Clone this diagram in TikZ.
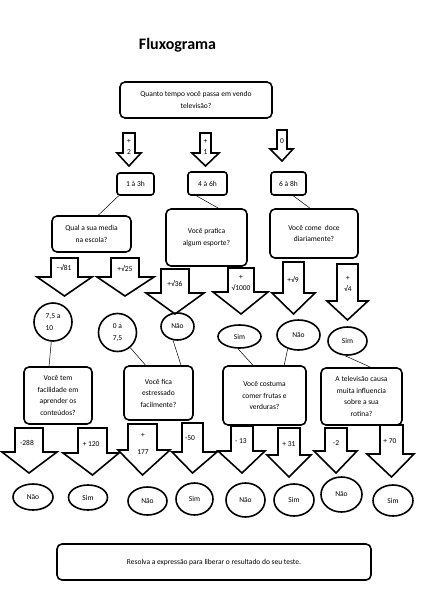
\documentclass[tikz,border=0pt]{standalone}
\usepackage{fontspec}
\setmainfont{Carlito}
\usepackage{tikz}
\usetikzlibrary{shapes.geometric}

% seta em bloco para baixo: haste esq, haste dir, topo, inicio da ponta, ponta esq, ponta dir, bico
\newcommand{\setaBloco}[7]{%
  \draw[bloco] (#1,#3) -- (#2,#3) -- (#2,#4) -- (#6,#4) -- ({(#1+#2)/2},#7) -- (#5,#4) -- (#1,#4) -- cycle;}

\begin{document}
\begin{tikzpicture}[x=1pt, y=-1pt,
    caixa/.style={draw, rounded corners=5pt, line width=1.6pt, align=center, inner sep=1pt, font=\fontsize{7.5}{11.5}\selectfont},
    bola/.style={draw, circle, line width=1.6pt, inner sep=0pt, align=left, font=\fontsize{7.5}{11.5}\selectfont},
    oval/.style={draw, ellipse, line width=1.6pt, inner sep=0pt, font=\fontsize{7.5}{11.5}\selectfont},
    rotulo/.style={align=center, inner sep=0pt, font=\fontsize{7.5}{11.5}\selectfont},
    bloco/.style={draw, line width=1.6pt, line join=miter},
    liga/.style={draw, line width=0.5pt}]

    \useasboundingbox (0,0) rectangle (433,599);

    \node[font=\fontsize{16}{18}\bfseries\selectfont] (titulo) at (177.5,45) {Fluxograma};

    \node[caixa, minimum width=152pt, minimum height=36pt] (tempo) at (196,100) {Quanto tempo você passa em vendo\\televisão?};

    % primeira fileira de setas
    \setaBloco{123}{135}{133}{153}{117}{141}{166}
    \node[rotulo] (mais2) at (129,147) {+\\2};
    \setaBloco{200}{211}{133}{153}{192}{219}{166}
    \node[rotulo] (mais1) at (205.5,147) {+\\1};
    \setaBloco{277}{287}{130}{149}{270}{293}{161}
    \node[rotulo] (zero) at (282,141) {0};

    \node[caixa, rounded corners=3pt, minimum width=37pt, minimum height=22pt] (umtres) at (135.5,184) {1 à 3h};
    \node[caixa, rounded corners=3pt, minimum width=39pt, minimum height=23pt] (quatroseis) at (207.5,183.5) {4 à 6h};
    \node[caixa, rounded corners=3pt, minimum width=35pt, minimum height=23pt] (seisoito) at (288.5,183.5) {6 à 8h};

    \node[caixa, minimum width=79pt, minimum height=36pt] (media) at (91.5,234) {Qual a sua media\\na escola?};
    \node[caixa, minimum width=81pt, minimum height=57pt] (esporte) at (206.5,237.5) {Você pratica\\algum esporte?};
    \node[caixa, minimum width=88pt, minimum height=49pt] (doce) at (314,233.5) {Você come\ \ doce\\diariamente?};

    \draw[liga] (umtres.215) -- (media.70);
    \draw[liga] (quatroseis.228) -- (esporte.68);
    \draw[liga] (seisoito.291) -- (doce.99);

    % segunda fileira de setas
    \setaBloco{51}{78}{258}{277}{37}{92}{296}
    \node[rotulo] (menos81) at (64,268) {−√81};
    \setaBloco{111}{139}{258}{277}{97}{154}{296}
    \node[rotulo] (mais25) at (125,268) {+√25};
    \setaBloco{161}{189}{269}{293}{146}{204}{314}
    \node[rotulo] (mais36) at (175,283) {+√36};
    \setaBloco{228}{254}{268}{292}{213}{268}{314}
    \node[rotulo] (mais1000) at (241,283) {+\\√1000};
    \setaBloco{283}{304}{262}{293}{272}{315}{314}
    \node[rotulo] (mais9) at (293,279) {+√9};
    \setaBloco{337}{358}{264}{301}{327}{368}{320}
    \node[rotulo] (mais4) at (348,284) {+\\√4};

    \node[bola, minimum size=38pt] (dezena) at (53,322) {7,5 a\\10};
    \node[bola, minimum size=38pt] (zerosete) at (117.5,332.5) {0 a\\7,5};
    \node[oval, minimum width=33pt, minimum height=27pt] (nao36) at (177.5,326.5) {Não};
    \node[oval, minimum width=43pt, minimum height=23pt] (sim1000) at (239.5,336.5) {Sim};
    \node[oval, minimum width=43pt, minimum height=30pt] (nao9) at (298.5,335) {Não};
    \node[oval, minimum width=39pt, minimum height=28pt] (sim4) at (347.5,341) {Sim};

    \node[caixa, minimum width=68pt, minimum height=57pt] (facil) at (58,395.5) {Você tem\\facilidade em\\aprender os\\conteúdos?};
    \node[caixa, minimum width=69pt, minimum height=54pt] (estresse) at (158.5,393) {Você fica\\estressado\\facilmente?};
    \node[caixa, minimum width=83pt, minimum height=59pt] (frutas) at (264.5,395.5) {Você costuma\\comer frutas e\\verduras?};
    \node[caixa, minimum width=81pt, minimum height=57pt] (tv) at (361.5,396.5) {A televisão causa\\muita influencia\\sobre a sua\\rotina?};

    \draw[liga] (dezena.265) -- (facil.107);
    \draw[liga] (zerosete.310) -- (estresse.115);
    \draw[liga] (nao36.252) -- (estresse.51);
    \draw[liga] (sim1000.263) -- (frutas.111);
    \draw[liga] (nao9.232) -- (frutas.57);
    \draw[liga] (sim4.260) -- (tv.73);

    % terceira fileira de setas
    \setaBloco{15}{43}{428}{452}{2}{57}{473}
    \node[rotulo] (menos288) at (27,443) {-288};
    \setaBloco{78}{107}{428}{453}{63}{119}{475}
    \node[rotulo] (mais120) at (91,444) {+ 120};
    \setaBloco{128}{157}{424}{450}{118}{170}{475}
    \node[rotulo] (mais177) at (143,444) {+\\[6pt]177};
    \setaBloco{182}{203}{423}{452}{172}{217}{473}
    \node[rotulo] (menos50) at (190,438) {-50};
    \setaBloco{231}{253}{426}{451}{218}{265}{473}
    \node[rotulo] (menos13) at (241,441) {- 13};
    \setaBloco{278}{300}{428}{455}{267}{311}{477}
    \node[rotulo] (mais31) at (289,444) {+ 31};
    \setaBloco{325}{347}{428}{451}{314}{357}{473}
    \node[rotulo] (menos2) at (336,443) {-2};
    \setaBloco{380}{403}{425}{454}{367}{414}{477}
    \node[rotulo] (mais70) at (390,441) {+ 70};

    \node[oval, minimum width=40pt, minimum height=26pt] (fimA) at (33,497) {Não};
    \node[oval, minimum width=39pt, minimum height=25pt] (fimB) at (88,497.5) {Sim};
    \node[oval, minimum width=39pt, minimum height=28pt] (fimC) at (147.5,501) {Não};
    \node[oval, minimum width=37pt, minimum height=32pt] (fimD) at (194.5,499) {Sim};
    \node[oval, minimum width=39pt, minimum height=34pt] (fimE) at (245.5,500) {Não};
    \node[oval, minimum width=40pt, minimum height=32pt] (fimF) at (294,500) {Sim};
    \node[oval, minimum width=41pt, minimum height=35pt] (fimG) at (341.5,494.5) {Não};
    \node[oval, minimum width=40pt, minimum height=31pt] (fimH) at (393,500.5) {Sim};

    \node[caixa, minimum width=314pt, minimum height=36pt] (resolva) at (214,562) {Resolva a expressão para liberar o resultado do seu teste.};
\end{tikzpicture}
\end{document}
